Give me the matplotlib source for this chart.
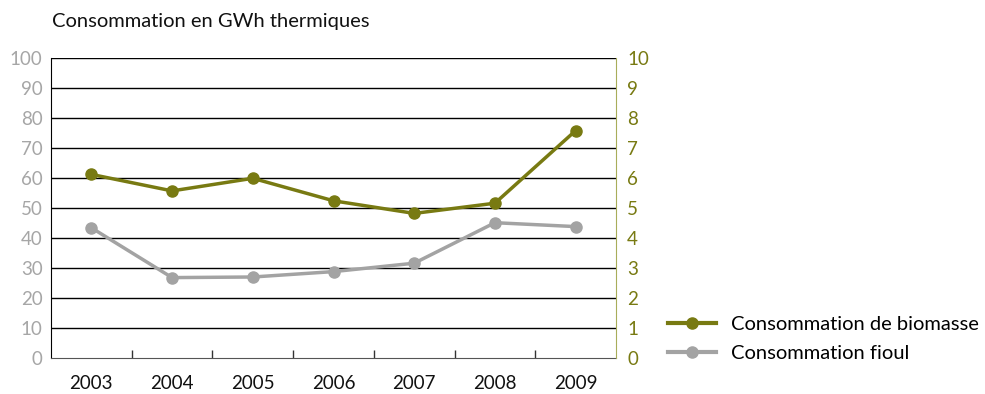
import matplotlib
matplotlib.use("Agg")
import matplotlib.pyplot as plt
from matplotlib.lines import Line2D

plt.rcParams['font.family'] = ['Lato', 'DejaVu Sans']

years = ["2003", "2004", "2005", "2006", "2007", "2008", "2009"]
fioul = [43.4, 26.8, 27.0, 28.8, 31.6, 45.1, 43.8]          # left axis
biomasse = [6.12, 5.57, 5.99, 5.24, 4.82, 5.16, 7.58]        # right axis
left_ticks = list(range(0, 101, 10))
right_ticks = list(range(0, 11, 1))

OLIVE = "#787a12"
GREY = "#a3a3a3"
TICKGREY = "#a6a6a6"

fig = plt.figure(figsize=(9.85, 3.94), dpi=100)
ax = fig.add_axes([51 / 985, 1 - 358 / 394, 565 / 985, 300 / 394])
ax2 = ax.twinx()

x = list(range(len(years)))
ax.set_xlim(-0.5, len(years) - 0.5)
ax.set_ylim(0, 100)
ax2.set_ylim(0, 10)

for v in left_ticks[1:]:
    ax.axhline(v, color="black", lw=1.0, zorder=1)

ax.plot(x, fioul, color=GREY, lw=2.5, marker="o", ms=8, zorder=3)
ax2.plot(x, biomasse, color=OLIVE, lw=2.5, marker="o", ms=8, zorder=3)

ax.set_yticks(left_ticks)
ax.set_yticklabels([str(t) for t in left_ticks], color=TICKGREY, fontsize=13.5)
ax.tick_params(axis="y", length=0, pad=6)
ax2.set_yticks(right_ticks)
ax2.set_yticklabels([str(t) for t in right_ticks], color=OLIVE, fontsize=13.5)
ax2.tick_params(axis="y", length=0, pad=8)

ax.set_xticks(x)
ax.set_xticklabels(years, fontsize=13.5, color="#111111")
ax.tick_params(axis="x", length=0, pad=12)
ax.set_xticks([i + 0.5 for i in range(len(years) - 1)], minor=True)
ax.tick_params(axis="x", which="minor", direction="in", length=6, width=1, color="#333333")

for a in (ax, ax2):
    a.spines["top"].set_visible(False)
ax.spines["left"].set_color("black")
ax.spines["bottom"].set_color("#555555")
ax.spines["right"].set_visible(False)
ax2.spines["left"].set_visible(False)
ax2.spines["bottom"].set_visible(False)
ax2.spines["right"].set_color("#a8ad5a")

fig.text(52 / 985, 1 - 22 / 394, "Consommation en GWh thermiques",
         fontsize=14.5, color="#111111", va="center", ha="left")

handles = [
    Line2D([], [], color=OLIVE, lw=3, marker="o", ms=8),
    Line2D([], [], color=GREY, lw=3, marker="o", ms=8),
]
fig.legend(handles, ["Consommation de biomasse", "Consommation fioul"],
           loc="center left", bbox_to_anchor=(650 / 985, 1 - 339 / 394),
           frameon=False, fontsize=14.5, handlelength=2.4, handletextpad=0.7,
           labelspacing=0.55)

fig.savefig("out.png", dpi=100)
